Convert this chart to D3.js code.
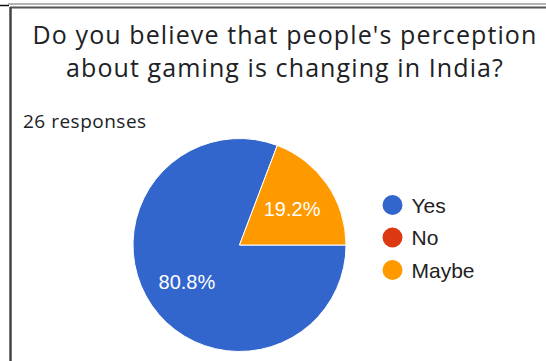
<!DOCTYPE html>
<html>
<head>
<meta charset="utf-8">
<script src="https://cdn.jsdelivr.net/npm/d3@7"></script>
<style>
  html, body { margin: 0; padding: 0; background: #fff; }
  svg { display: block; }
</style>
</head>
<body>
<svg id="chart" width="546" height="361"></svg>
<script>
// Survey question and responses
const titleLines = ["Do you believe that people's perception", "about gaming is changing in India?"];
const responseCount = 26;
const answers = ["Yes", "No", "Maybe"];
const counts = [21, 0, 5];
const colors = ["#3366cc", "#dc3912", "#ff9900"];

const W = 546, H = 361;
const svg = d3.select("#chart");

// Card frame
const frame = svg.append("g");
frame.append("line").attr("x1", 0).attr("x2", 9).attr("y1", 5.5).attr("y2", 5.5)
  .attr("stroke", "#111").attr("stroke-width", 1.5);
frame.append("line").attr("x1", 8).attr("x2", W).attr("y1", 4).attr("y2", 4)
  .attr("stroke", "#9a9a9a").attr("stroke-width", 1.5);
frame.append("line").attr("x1", 10).attr("x2", W).attr("y1", 7.5).attr("y2", 7.5)
  .attr("stroke", "#555").attr("stroke-width", 2);
frame.append("line").attr("x1", 10.5).attr("x2", 10.5).attr("y1", 7).attr("y2", H)
  .attr("stroke", "#444").attr("stroke-width", 2.5);

// Title
const title = svg.append("text")
  .attr("text-anchor", "middle")
  .attr("font-family", "'Open Sans', Roboto, sans-serif")
  .attr("font-size", 25)
  .attr("letter-spacing", 1.1)
  .attr("fill", "#202124");
title.selectAll("tspan").data(titleLines).join("tspan")
  .attr("x", 285)
  .attr("y", (d, i) => 44 + i * 33)
  .text(d => d);

svg.append("text")
  .attr("x", 23).attr("y", 128)
  .attr("font-family", "'Open Sans', Roboto, sans-serif")
  .attr("font-size", 19)
  .attr("letter-spacing", 0.5)
  .attr("fill", "#202124")
  .text(`${responseCount} responses`);

// Pie
const cx = 239.5, cy = 245, R = 106.5;
const total = d3.sum(counts);
const data = answers.map((a, i) => ({ answer: a, count: counts[i], color: colors[i] }));

const pie = d3.pie().sort(null).value(d => d.count)
  .startAngle(Math.PI / 2).endAngle(Math.PI / 2 + 2 * Math.PI);
const arcs = pie(data);
const arc = d3.arc().innerRadius(0).outerRadius(R);
const labelArc = d3.arc().innerRadius(R * 0.6).outerRadius(R * 0.6);

const g = svg.append("g").attr("transform", `translate(${cx},${cy})`);
g.selectAll("path").data(arcs.filter(d => d.data.count > 0)).join("path")
  .attr("d", arc)
  .attr("fill", d => d.data.color)
  .attr("stroke", "#fff")
  .attr("stroke-width", 1);

const pct = d3.format(".1%");
g.selectAll("text.lbl").data(arcs.filter(d => d.data.count > 0)).join("text")
  .attr("class", "lbl")
  .attr("transform", d => `translate(${labelArc.centroid(d)})`)
  .attr("text-anchor", "middle")
  .attr("dy", "0.36em")
  .attr("font-family", "'Liberation Sans', Arial, sans-serif")
  .attr("font-size", 20)
  .attr("fill", "#fff")
  .text(d => pct(d.data.count / total));

// Legend
const legend = svg.append("g").attr("transform", "translate(392.5,205)");
const item = legend.selectAll("g").data(data).join("g")
  .attr("transform", (d, i) => `translate(0,${i * 32.5})`);
item.append("circle").attr("r", 10).attr("fill", d => d.color);
item.append("text")
  .attr("x", 19).attr("dy", "0.36em")
  .attr("font-family", "'Liberation Sans', Arial, sans-serif")
  .attr("font-size", 21)
  .attr("fill", "#222")
  .text(d => d.answer);
</script>
</body>
</html>
